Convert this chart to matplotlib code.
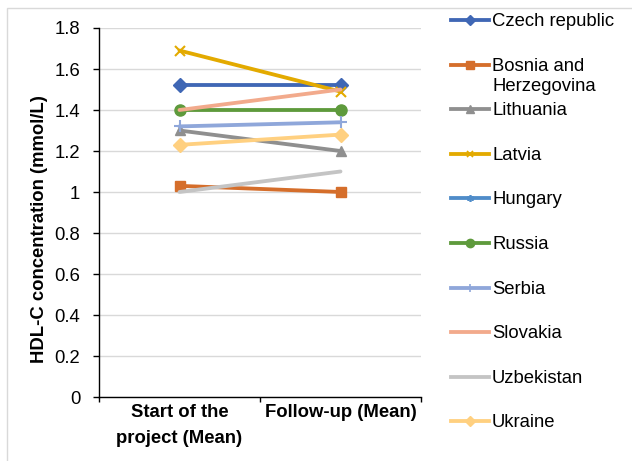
import numpy as np
import matplotlib
matplotlib.use('Agg')
import matplotlib.pyplot as plt
from matplotlib.lines import Line2D
from matplotlib.patches import Rectangle

# ---------------- data ----------------
categories = ['Start of the\nproject (Mean)', 'Follow-up (Mean)']
countries = ['Czech republic', 'Bosnia and\nHerzegovina', 'Lithuania', 'Latvia', 'Hungary',
             'Russia', 'Serbia', 'Slovakia', 'Uzbekistan', 'Ukraine']
czech = [1.52, 1.52]
bosnia = [1.03, 1.00]
lithuania = [1.30, 1.20]
latvia = [1.69, 1.49]
hungary = [np.nan, np.nan]
russia = [1.40, 1.40]
serbia = [1.32, 1.34]
slovakia = [1.40, 1.50]
uzbekistan = [1.00, 1.10]
ukraine = [1.23, 1.28]
yticks = [0, 0.2, 0.4, 0.6, 0.8, 1.0, 1.2, 1.4, 1.6, 1.8]
ytick_labels = ['0', '0.2', '0.4', '0.6', '0.8', '1', '1.2', '1.4', '1.6', '1.8']
y_label = 'HDL-C concentration (mmol/L)'

series = [czech, bosnia, lithuania, latvia, hungary, russia, serbia, slovakia, uzbekistan, ukraine]

# ---------------- styles ----------------
colors = ['#3F67B5', '#D56E2B', '#8F8F8F', '#E3AA00', '#4F8CC9',
          '#5E9A3C', '#8FA7DA', '#F2AA8C', '#C4C4C4', '#FFD080']
markers = ['D', 's', '^', 'x', (6, 2, 0), 'o', '+', None, None, 'D']
msizes = [7, 7.5, 7.5, 7, 7, 8, 8, 0, 0, 7]
leg_msizes = [5, 5.5, 5.5, 5, 5, 6, 6, 0, 0, 5]

plt.rcParams['font.family'] = ['Liberation Sans', 'DejaVu Sans']
FS = 13.3
LW = 2.75
W, H = 632, 461

fig = plt.figure(figsize=(W / 100, H / 100), dpi=100)
fig.patch.set_facecolor('white')
ax = fig.add_axes([99 / W, 1 - 397 / H, (421 - 99) / W, (397 - 28) / H])

x = np.arange(len(categories)) + 0.5
for vals, c, m, ms in zip(series, colors, markers, msizes):
    mew = 1.5 if m in ('x', '+', (6, 2, 0)) else 1
    ax.plot(x, vals, color=c, lw=LW, marker=m, ms=ms, mfc=c, mec=c, mew=mew,
            solid_capstyle='round', clip_on=False, zorder=3)

ax.set_xlim(0, 2)
ax.set_ylim(0, 1.8)
ax.set_xticks([0, 1, 2])
ax.set_xticklabels([])
ax.set_xticks(x, minor=True)
ax.set_xticklabels(categories, minor=True, fontweight='bold', fontsize=FS, linespacing=1.72)
ax.tick_params(axis='x', which='minor', length=0, pad=5)
ax.tick_params(axis='x', which='major', length=3.6, width=1, color='black', direction='out')
ax.set_yticks(yticks)
ax.set_yticklabels(ytick_labels, fontsize=FS)
ax.tick_params(axis='y', length=4.5, width=1, color='black', pad=9, direction='out')
ax.yaxis.grid(True, color='#D9D9D9', lw=1)
ax.set_axisbelow(True)
for s in ['top', 'right']:
    ax.spines[s].set_visible(False)
for s in ['left', 'bottom']:
    ax.spines[s].set_color('black')
    ax.spines[s].set_linewidth(1)

fig.text(40 / W, 1 - 229 / H, y_label, rotation=90, ha='center', va='center',
         fontweight='bold', fontsize=FS)

# border
fig.add_artist(Rectangle((7 / W, -0.1), 2, 1 - 8 / H + 0.1, transform=fig.transFigure,
                         fill=False, ec='#D9D9D9', lw=1))

# legend (manual, Excel-like)
for i, (name, c, m, ms) in enumerate(zip(countries, colors, markers, leg_msizes)):
    yc = 20 + 44.6 * i
    fig.add_artist(Line2D([451 / W, 489 / W], [1 - yc / H, 1 - yc / H], transform=fig.transFigure,
                          color=c, lw=LW))
    if m is not None:
        mew = 1.2 if m in ('x', '+', (6, 2, 0)) else 1
        fig.add_artist(Line2D([470 / W], [1 - yc / H], transform=fig.transFigure, color=c,
                              marker=m, ms=ms, mfc=c, mec=c, mew=mew, lw=0))
    for j, line in enumerate(name.split('\n')):
        fig.text(492 / W, 1 - (yc + 6 + 20 * j) / H, line, ha='left', va='baseline', fontsize=FS)

fig.savefig('out.png', dpi=100, facecolor='white')
